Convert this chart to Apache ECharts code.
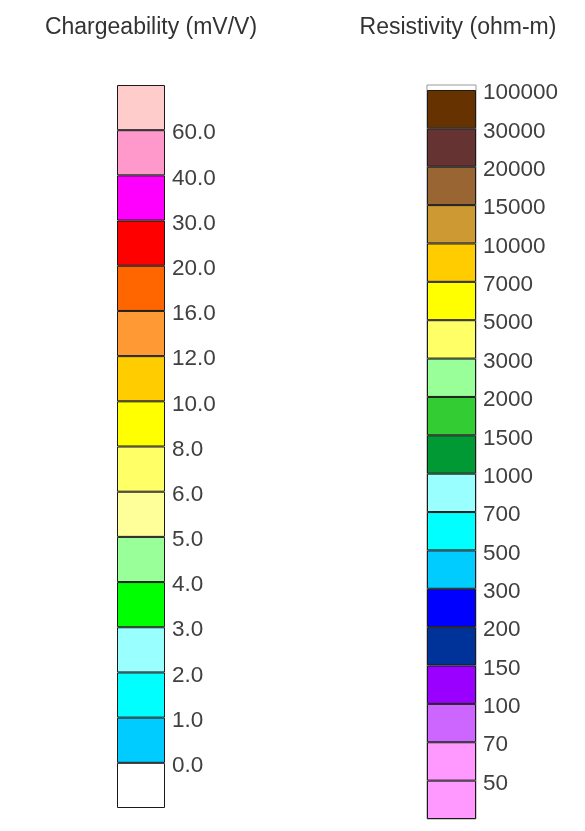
<!DOCTYPE html>
<html>
<head>
<meta charset="utf-8">
<script src="https://cdn.jsdelivr.net/npm/echarts@6/dist/echarts.min.js"></script>
<style>
html,body{margin:0;padding:0;background:#fff;}
#chart{width:585px;height:831px;}
</style>
</head>
<body>
<div id="chart"></div>
<script>
// Chargeability classes, bottom to top
var chargeColors = ['#FFFFFF','#00CCFF','#00FFFF','#99FFFF','#00FF00','#99FF99','#FFFF99','#FFFF66','#FFFF00','#FFCC00','#FF9933','#FF6600','#FF0000','#FF00FF','#FF99CC','#FFCCCC'];
var chargeSpan = [1,1,1,1,1,1,1,1,1,1,1,1,1,1,1,1];
// boundary labels, bottom boundary index 1 .. 15
var chargeLabels = ['0.0','1.0','2.0','3.0','4.0','5.0','6.0','8.0','10.0','12.0','16.0','20.0','30.0','40.0','60.0'];

// Resistivity classes, bottom to top
var resColors = ['#FF99FF','#FF99FF','#CC66FF','#9900FF','#003399','#0000FF','#00CCFF','#00FFFF','#99FFFF','#009933','#33CC33','#99FF99','#FFFF66','#FFFF00','#FFCC00','#CC9933','#996633','#663333','#663300'];
var resSpan = [1,1,1,1,1,1,1,1,1,1,1,1,1,1,1,1,1,1,1];
// label at top edge of each class, bottom to top
var resLabels = ['50','70','100','150','200','300','500','700','1000','1500','2000','3000','5000','7000','10000','15000','20000','30000','100000'];

var titles = ['Chargeability (mV/V)', 'Resistivity (ohm-m)'];

var FONT = '"Liberation Sans", Arial, Helvetica, sans-serif';
var chart = echarts.init(document.getElementById('chart'), null, {renderer:'canvas'});

var series = [];
chargeColors.forEach(function(c, i){
  series.push({type:'bar', stack:'charge', xAxisIndex:0, yAxisIndex:0, barWidth:'100%',
    data:[chargeSpan[i]], silent:true,
    itemStyle:{color:c, borderColor:'#1a1a1a', borderWidth:1}});
});
resColors.forEach(function(c, i){
  series.push({type:'bar', stack:'res', xAxisIndex:1, yAxisIndex:1, barWidth:'100%',
    data:[resSpan[i]], silent:true,
    itemStyle:{color:c, borderColor:'#1a1a1a', borderWidth:1}});
});

var chargeTotal = chargeSpan.reduce(function(a,b){return a+b;},0);
var resTotal = resSpan.reduce(function(a,b){return a+b;},0);

var richLab = {t:{fontFamily:FONT, fontSize:22.5, color:'#404040', padding:[6,0,0,0], lineHeight:24}};
function makeFmt(labels){
  return function(v){
    var k = Math.round(v);
    if (Math.abs(v-k) > 1e-6 || k < 1 || k > labels.length) return '';
    return '{t|' + labels[k-1] + '}';
  };
}

var option = {
  animation:false,
  backgroundColor:'#fff',
  graphic:[
    {type:'text', x:151, y:28, silent:true,
     style:{text:titles[0], font:'23px ' + FONT, fill:'#333', align:'center', verticalAlign:'middle'}},
    {type:'text', x:458, y:28, silent:true,
     style:{text:titles[1], font:'23px ' + FONT, fill:'#333', align:'center', verticalAlign:'middle'}}
  ],
  grid:[
    {left:117, top:85, width:48, height:723},
    {left:427, top:85, width:49, height:734, show:true, borderColor:'#999', borderWidth:1, backgroundColor:'transparent'}
  ],
  xAxis:[
    {type:'category', gridIndex:0, data:[''], show:false},
    {type:'category', gridIndex:1, data:[''], show:false}
  ],
  yAxis:[
    {type:'value', gridIndex:0, min:0, max:chargeTotal, interval:1, position:'right',
     axisLine:{show:false}, axisTick:{show:false}, splitLine:{show:false},
     axisLabel:{margin:7, formatter:makeFmt(chargeLabels), rich:richLab}},
    {type:'value', gridIndex:1, min:0, max:resTotal + 0.13, interval:1, position:'right',
     axisLine:{show:false}, axisTick:{show:false}, splitLine:{show:false},
     axisLabel:{margin:7, showMaxLabel:false, formatter:makeFmt(resLabels), rich:richLab}}
  ],
  series:series
};
chart.setOption(option);
</script>
</body>
</html>
